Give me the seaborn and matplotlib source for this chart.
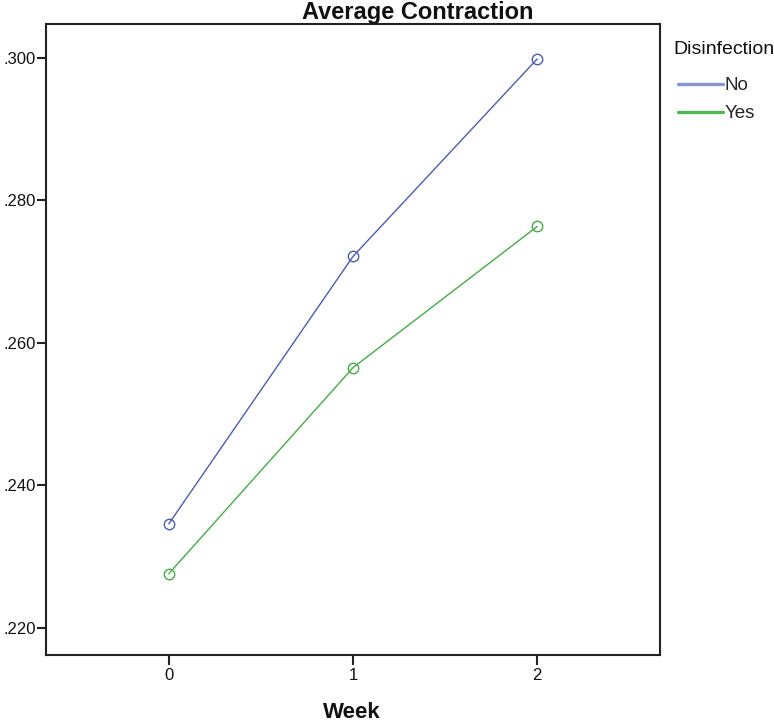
import pandas as pd
import matplotlib
matplotlib.use("Agg")
import matplotlib.pyplot as plt
from matplotlib.lines import Line2D
from matplotlib.ticker import FuncFormatter
import seaborn as sns

# 데이터
weeks = [0, 1, 2]
groups = ["No", "Yes"]
contraction_no = [0.2346, 0.2721, 0.2998]
contraction_yes = [0.2276, 0.2565, 0.2763]
colors = {"No": "#4a5db5", "Yes": "#44ad44"}
legend_colors = {"No": "#8797d2", "Yes": "#52b652"}

df = pd.DataFrame({
    "Week": weeks * 2,
    "Disinfection": ["No"] * 3 + ["Yes"] * 3,
    "Contraction": contraction_no + contraction_yes,
})

sns.set_style("white")
plt.rcParams["font.family"] = ["Liberation Sans", "DejaVu Sans"]

fig = plt.figure(figsize=(7.74, 7.22), dpi=100)
ax = fig.add_axes([46 / 774, 67 / 722, (660 - 46) / 774, (655 - 24) / 722])

sns.lineplot(
    data=df, x="Week", y="Contraction", hue="Disinfection",
    palette=colors, marker="o", markersize=7.5, markerfacecolor="none",
    markeredgewidth=1.0, linewidth=1.0, ax=ax, legend=False,
)
for line in ax.lines:
    line.set_markeredgecolor(line.get_color())

ax.set_xlim(-2 / 3, 8 / 3)
ax.set_ylim(0.2162, 0.3047)
ax.set_xticks(weeks)
ax.set_xticklabels([str(w) for w in weeks])
ax.set_yticks([0.22, 0.24, 0.26, 0.28, 0.30])
ax.yaxis.set_major_formatter(FuncFormatter(lambda v, p: f"{v:.3f}".lstrip("0")))

for s in ax.spines.values():
    s.set_color("#222222")
    s.set_linewidth(1.5)
ax.tick_params(axis="both", direction="out", length=6.5, width=1.5,
               color="#222222", labelsize=12, labelcolor="#111111",
               pad=1, bottom=True, left=True)
ax.tick_params(axis="x", length=7, pad=2)

ax.set_ylabel("")
ax.set_xlabel("")

# 제목, x축 이름
fig.text(302 / 774, 1 - 18.5 / 722, "Average Contraction", ha="left", va="baseline",
         fontsize=17, fontweight="bold", color="#111111")
fig.text(352 / 774, 1 - 718 / 722, "Week", ha="center", va="baseline",
         fontsize=16, fontweight="bold", color="#111111")

# 범례
fig.text(673 / 774, 1 - 54 / 722, "Disinfection", ha="left", va="baseline",
         fontsize=14, color="#111111")
handles = [Line2D([0], [0], color=legend_colors[g], lw=2.4) for g in groups]
leg = fig.legend(handles, groups, loc="upper left",
                 bbox_to_anchor=(678 / 774, 1 - 77 / 722), frameon=False,
                 fontsize=13.5, handlelength=2.4, handletextpad=0.1,
                 labelspacing=0.6, borderpad=0, borderaxespad=0)

fig.savefig("out.png", dpi=100)
